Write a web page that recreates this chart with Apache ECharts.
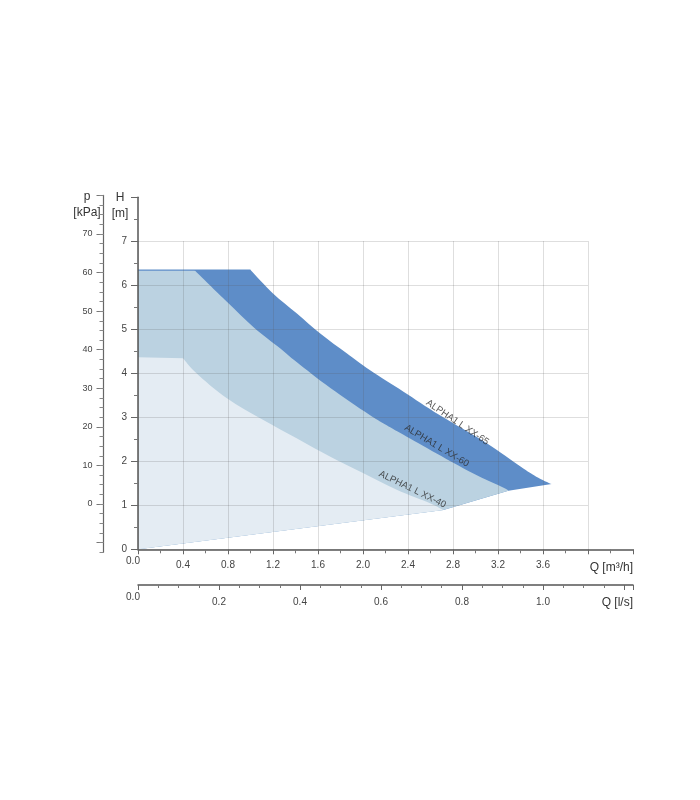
<!DOCTYPE html>
<html><head><meta charset="utf-8">
<script src="https://cdn.jsdelivr.net/npm/echarts@6/dist/echarts.min.js"></script>
<style>html,body{margin:0;padding:0;background:#fff}#c{width:700px;height:800px}</style>
</head><body><div id="c"></div>
<script>
// ---- data ----
const curveNames = ['ALPHA1 L XX-65', 'ALPHA1 L XX-60', 'ALPHA1 L XX-40'];
// upper edges of the bands: [Q m3/h, H m]
const top65 = [[0,6.34],[1.0,6.34],[1.2,5.81],[1.41,5.36],[1.62,4.90],[1.855,4.45],[2.06,4.07],[2.36,3.58],[2.68,3.05],[3.10,2.41],[3.40,1.88],[3.54,1.65],[3.677,1.48]];
const top60 = [[0,6.34],[0.5,6.34],[0.79,5.62],[1.025,5.05],[1.26,4.57],[1.41,4.25],[1.71,3.66],[2.06,3.05],[2.36,2.60],[2.95,1.76],[3.25,1.40],[3.292,1.33]];
const top40 = [[0,4.36],[0.4,4.34],[0.52,4.00],[0.79,3.43],[1.11,2.94],[1.41,2.52],[1.71,2.10],[2.0,1.73],[2.30,1.35],[2.60,1.04],[2.714,0.89]];
// common lower boundary (origin -> end points)
const minLine = [[0,0],[2.714,0.89],[3.292,1.33],[3.677,1.48]];
const labelPos = [[2.84,2.88],[2.655,2.35],[2.44,1.36]];
const labelAngle = [-34,-31,-26];
// tick labels
const qLabels = ['0.0','0.4','0.8','1.2','1.6','2.0','2.4','2.8','3.2','3.6'];
const qlsLabels = ['0.0','0.2','0.4','0.6','0.8','1.0'];
const hLabels = ['0','1','2','3','4','5','6','7'];
const pLabels = ['0','10','20','30','40','50','60','70'];

const bandColors = ['#5e8dc8', '#bbd2e1', '#e4ecf3'];
const FONT = 'Liberation Sans, Arial, sans-serif';
const LABEL_COLOR = '#444';

function backEdge(top) {
  const tipQ = top[top.length - 1][0];
  return minLine.filter(p => p[0] < tipQ - 1e-6).reverse();
}
const bands = [top65, top60, top40];

// path: straight flat part up to the corner, smooth (Catmull-Rom) afterwards, straight lower edge
function bandPath(topPx, backPx) {
  const f = p => p[0].toFixed(2) + ' ' + p[1].toFixed(2);
  let d = 'M ' + f(topPx[0]) + ' L ' + f(topPx[1]);
  const s = topPx.slice(1);
  for (let i = 0; i < s.length - 1; i++) {
    const p0 = s[Math.max(i - 1, 0)], p1 = s[i], p2 = s[i + 1], p3 = s[Math.min(i + 2, s.length - 1)];
    const c1 = [p1[0] + (p2[0] - p0[0]) / 6, p1[1] + (p2[1] - p0[1]) / 6];
    const c2 = [p2[0] - (p3[0] - p1[0]) / 6, p2[1] - (p3[1] - p1[1]) / 6];
    d += ' C ' + f(c1) + ' ' + f(c2) + ' ' + f(p2);
  }
  backPx.forEach(p => { d += ' L ' + f(p); });
  return d + ' Z';
}

function fmtFrom(list, dec) {
  return function (v) {
    const s = dec === 0 ? String(Math.round(v)) : v.toFixed(dec);
    if (list.indexOf(s) < 0) return '';
    if (Math.abs(v) < 1e-9 && dec > 0) return '{z|' + s + '}';
    return s;
  };
}
const zeroRich = { z: { lineHeight: 1, padding: [0, 10, 0, 0], fontSize: 10, color: LABEL_COLOR, fontFamily: FONT } };

const polySeries = bands.map((top, i) => ({
  type: 'custom', xAxisIndex: 1, yAxisIndex: 1, z: 2 + i * 0.1, silent: true, clip: false,
  data: [[0, 0]],
  renderItem: (params, api) => ({
    type: 'path',
    shape: { pathData: bandPath(top.map(p => api.coord(p)), backEdge(top).map(p => api.coord(p))) },
    style: { fill: bandColors[i] }
  })
}));

const option = {
  backgroundColor: '#fff',
  animation: false,
  textStyle: { fontFamily: FONT },
  grid: [
    { left: 138, top: 197.3, width: 495, height: 352, containLabel: false },   // main axes
    { left: 138, top: 241, width: 450, height: 308.3, containLabel: false },   // plot + gridlines
    { left: 103.5, top: 195.4, width: 10, height: 347.1, containLabel: false }, // p labels
    { left: 103.5, top: 195.4, width: 10, height: 356.8, containLabel: false }, // p line
    { left: 138, top: 584, width: 495, height: 1, containLabel: false }         // l/s axis
  ],
  xAxis: [
    { gridIndex: 0, type: 'value', min: 0, max: 4.4, interval: 0.4, z: 11,
      axisLine: { show: true, onZero: false, lineStyle: { color: '#555', width: 1.5 } },
      axisTick: { show: true, length: 5, lineStyle: { color: '#666' } },
      minorTick: { show: true, splitNumber: 2, length: 4, lineStyle: { color: '#777' } },
      splitLine: { show: false },
      axisLabel: { margin: 11, fontSize: 10, color: LABEL_COLOR, formatter: fmtFrom(qLabels, 1), rich: zeroRich, showMaxLabel: true },
      name: 'Q [m³/h]', nameLocation: 'end', nameGap: 0,
      nameTextStyle: { fontSize: 12, color: '#333', align: 'right', verticalAlign: 'top', lineHeight: 14, padding: [11, 0, 0, 0] }
    },
    { gridIndex: 1, type: 'value', min: 0, max: 4, interval: 0.4, z: 10,
      axisLine: { show: false }, axisTick: { show: false }, axisLabel: { show: false },
      splitLine: { show: true, lineStyle: { color: 'rgba(90,90,90,0.2)', width: 1 } }
    },
    { gridIndex: 2, type: 'value', show: false },
    { gridIndex: 3, type: 'value', show: false },
    { gridIndex: 4, type: 'value', min: 0, max: 4.4 / 3.6, interval: 0.2, position: 'bottom', z: 11,
      axisLine: { show: true, onZero: false, lineStyle: { color: '#555', width: 1.5 } },
      axisTick: { show: true, length: 5, lineStyle: { color: '#666' } },
      minorTick: { show: true, splitNumber: 4, length: 3, lineStyle: { color: '#777' } },
      splitLine: { show: false },
      axisLabel: { margin: 12, fontSize: 10, color: LABEL_COLOR, formatter: fmtFrom(qlsLabels, 1), rich: zeroRich },
      name: 'Q [l/s]', nameLocation: 'end', nameGap: 0,
      nameTextStyle: { fontSize: 12, color: '#333', align: 'right', verticalAlign: 'top', lineHeight: 14, padding: [11, 0, 0, 0] }
    }
  ],
  yAxis: [
    { gridIndex: 0, type: 'value', min: 0, max: 8, interval: 1, z: 11,
      axisLine: { show: true, onZero: false, lineStyle: { color: '#555', width: 1.5 } },
      axisTick: { show: true, length: 7, lineStyle: { color: '#666' } },
      minorTick: { show: true, splitNumber: 2, length: 4, lineStyle: { color: '#777' } },
      splitLine: { show: false },
      axisLabel: { margin: 11, fontSize: 10, color: LABEL_COLOR, formatter: fmtFrom(hLabels, 0) },
      name: 'H\n[m]', nameLocation: 'end', nameGap: -8,
      nameTextStyle: { fontSize: 12, color: '#333', align: 'center', verticalAlign: 'middle', lineHeight: 16, padding: [0, 36, 0, 0] }
    },
    { gridIndex: 1, type: 'value', min: 0, max: 7, interval: 1, z: 10,
      axisLine: { show: false }, axisTick: { show: false }, axisLabel: { show: false },
      splitLine: { show: true, lineStyle: { color: 'rgba(90,90,90,0.2)', width: 1 } }
    },
    { gridIndex: 2, type: 'value', min: -10, max: 80, interval: 10, z: 11,
      axisLine: { show: false },
      axisTick: { show: true, length: 7, lineStyle: { color: '#777' } },
      splitLine: { show: false },
      axisLabel: { margin: 11, fontSize: 9, color: LABEL_COLOR, formatter: fmtFrom(pLabels, 0) }
    },
    { gridIndex: 3, type: 'value', min: -12.5, max: 80, interval: 2.5, z: 11,
      axisLine: { show: true, onZero: false, lineStyle: { color: '#666', width: 1.2 } },
      axisTick: { show: true, length: 4, lineStyle: { color: '#888' } },
      splitLine: { show: false },
      axisLabel: { show: false },
      name: 'p\n[kPa]', nameLocation: 'end', nameGap: -9.6,
      nameTextStyle: { fontSize: 12, color: '#333', align: 'center', verticalAlign: 'middle', lineHeight: 16, padding: [0, 33, 0, 0] }
    },
    { gridIndex: 4, type: 'value', show: false }
  ],
  series: polySeries.concat([
    { type: 'line', xAxisIndex: 1, yAxisIndex: 1, z: 3, silent: true, symbol: 'none',
      data: top65.slice(0, 2), lineStyle: { color: bandColors[0], width: 1.2 } },
    { type: 'scatter', xAxisIndex: 1, yAxisIndex: 1, z: 5, silent: true, symbolSize: 0,
      data: curveNames.map((n, i) => ({
        value: labelPos[i],
        label: { show: true, position: 'inside', formatter: n, rotate: labelAngle[i], fontSize: 9.5, color: '#2a2a2a', fontFamily: FONT }
      }))
    }
  ])
};
const chart = echarts.init(document.getElementById('c'), null, { renderer: 'canvas' });
chart.setOption(option);
</script>
</body></html>
